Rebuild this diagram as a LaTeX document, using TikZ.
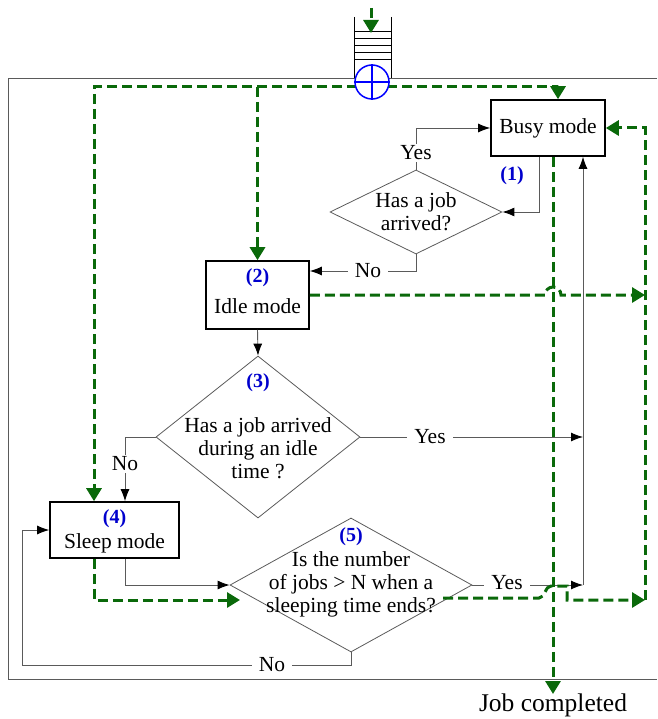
\documentclass[tikz,border=0pt]{standalone}
\usepackage{fontspec}
\setmainfont{Liberation Serif}
\usetikzlibrary{arrows.meta,shapes.geometric,calc}
\definecolor{gdash}{RGB}{10,105,10}
\definecolor{nblue}{RGB}{0,0,205}
\definecolor{lgray}{RGB}{90,90,90}
\begin{document}
\begin{tikzpicture}[x=1pt,y=-1pt,
  font=\fontsize{21.5}{23}\selectfont,
  modebox/.style={draw=black,line width=1.6pt,inner sep=0pt},
  dia/.style={diamond,draw=lgray,line width=0.8pt,inner sep=0pt},
  txt/.style={align=center,inner sep=0pt},
  lbl/.style={fill=white,inner xsep=7pt,inner ysep=2pt},
  num/.style={text=nblue,font=\fontsize{20}{22}\selectfont\bfseries,inner sep=1pt},
  conn/.style={draw=lgray,line width=0.9pt,-{Latex[length=12pt,width=9pt,color=black]}},
  plain/.style={draw=lgray,line width=0.9pt},
  gline/.style={draw=gdash,line width=3pt,dash pattern=on 10pt off 5pt},
  gtip/.style={-{Triangle[length=13pt,width=15pt,color=gdash]}},
  frame/.style={draw=lgray,line width=0.9pt}
]
\useasboundingbox (0,0) rectangle (657,719);

% frame
\draw[frame] (657,78) -- (8,78) -- (8,679) -- (657,679);

% boxes
\node[modebox,minimum width=114pt,minimum height=56pt] (busy) at (548,128) {};
\node[txt] (busyt) at (548,128) {Busy mode};
\node[modebox,minimum width=103pt,minimum height=68pt] (idle) at (257.5,295) {};
\node[num] (n2) at (257.5,278) {(2)};
\node[txt] (idlet) at (257.5,306) {Idle mode};
\node[modebox,minimum width=129pt,minimum height=56pt] (sleep) at (114.5,530) {};
\node[num] (n4) at (114.5,519) {(4)};
\node[txt] (sleept) at (114.5,543) {Sleep mode};

% diamonds
\node[dia,minimum width=172pt,minimum height=84pt] (d1) at (416,212) {};
\node[txt] (d1t) at (416,212) {Has a job\\arrived?};
\node[dia,minimum width=204pt,minimum height=162pt] (d3) at (258,437) {};
\node[num] (n3) at (258,383) {(3)};
\node[txt] (d3t) at (258,448) {Has a job arrived\\during an idle\\time ?};
\node[dia,minimum width=242pt,minimum height=134pt] (d5) at (351,585) {};
\node[num,fill=white] (n5) at (351,537) {(5)};
\node[txt] (d5t) at (351,584) {Is the number\\of jobs > N when a\\sleeping time ends?};
\node[num] (n1) at (512,176) {(1)};

% output text
\node[txt,anchor=north,font=\fontsize{25.5}{28}\selectfont] (job) at (553,694) {Job completed};

% coordinates
\coordinate (mixout) at (372,87);
\coordinate (gbr) at (idle.north |- mixout);
\coordinate (bj) at (583,585);
\coordinate (j3) at (583,437);
\coordinate (nl) at (22,665);
\coordinate (rv) at (645,600);
\coordinate (rvi) at (645,295);
\coordinate (d5in) at (240,600);
\coordinate (g5out) at (443,598);

% black connectors
\draw[conn] ($(busy.south)+(-9,0)$) |- (d1.east);
\draw[conn] (d1.north) |- (busy.west);
\node[lbl] (y1) at (416,153) {Yes};
\draw[conn] (d1.south) |- ($(idle.east)+(0,-24)$);
\node[lbl] (no1) at (368,271) {No};
\draw[conn] (idle.south) -- (d3.north);
\draw[conn] (d3.east) -- (j3);
\node[lbl] (y3) at (430,437) {Yes};
\draw[conn] (d3.west) -| ($(sleep.north)+(10.5,0)$);
\node[lbl,inner xsep=2pt] (no3) at (125,464) {No};
\draw[conn] ($(sleep.south)+(10.5,0)$) |- (d5.west);
\draw[conn] (d5.east) -- (bj);
\node[lbl] (y5) at (507,583) {Yes};
\draw[conn] (bj) -- (bj |- busy.south);
\draw[plain] (d5.south) |- (nl);
\draw[conn] (nl) |- (sleep.west);
\node[lbl] (no5) at (272,665) {No};

% green dashed flows
\draw[gline,gtip] (mixout) -| ($(busy.north)+(10,0)$);
\draw[gline,gtip] (mixout) -| ($(sleep.north)+(-20.5,0)$);
\draw[gline,gtip] (gbr) -- (idle.north);
\draw[gline,gtip] ($(busy.south)+(5,0)$) -- (job.north);
\draw[gline,gtip] (idle.east) -- (545,295) arc (180:360:8) -- (rvi);
\draw[gline,gtip] ($(sleep.south)+(-20.5,0)$) |- (d5in);
\draw[gline,gtip] (g5out) -- (539,598) .. controls (545,598) and (545,586) .. (551,586) -- (567,586) -- (567,600) -- (rv);
\draw[gline,gtip] (rv) |- (busy.east);

% queue
\coordinate (qin) at (371,8);
\coordinate (qtop) at (371,33);
\draw[line width=0.9pt] (354,17) -- (354,78) (391,17) -- (391,78);
\foreach \yy in {31,38,45,52,59} \draw[line width=0.9pt] (354,\yy) -- (391,\yy);
\draw[gline,gtip] (qin) -- (qtop);
\node[circle,draw=blue,fill=white,line width=1.5pt,minimum size=34pt,inner sep=0pt] (mux) at (372,82) {};
\draw[blue,line width=1.5pt] (mux.north) -- (mux.south) (mux.west) -- (mux.east);
\end{tikzpicture}
\end{document}
